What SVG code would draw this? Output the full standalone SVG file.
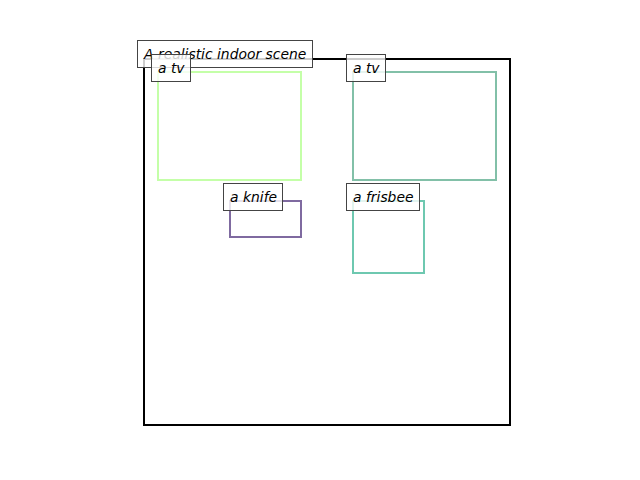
<svg xmlns="http://www.w3.org/2000/svg" width="640" height="480" viewBox="0 0 640 480">
<style>
.frame{fill:none;stroke:#000;stroke-width:2}
.box{fill:none;stroke-width:2}
.lbl{fill:#fff;fill-opacity:0.8;stroke:#444;stroke-width:1}
text{font-family:"DejaVu Sans",sans-serif;font-style:oblique;font-size:13.9px;fill:#000}
</style>
<rect width="640" height="480" fill="#fff"/>
<rect class="frame" x="144" y="59" width="366" height="366"/>
<g id="tv1">
<rect class="box" x="158" y="72" width="143" height="108" stroke="#c4ffa8"/>
</g>
<g id="tv2">
<rect class="box" x="353" y="72" width="143" height="108" stroke="#82c0a8"/>
</g>
<g id="knife">
<rect class="box" x="230" y="201" width="71" height="36" stroke="#7f6aa0"/>
</g>
<g id="frisbee">
<rect class="box" x="353" y="201" width="71" height="72" stroke="#6ec8b0"/>
</g>
<g id="title">
<rect class="lbl" x="137.5" y="40.5" width="175" height="27"/>
<text x="144" y="59">A realistic indoor scene</text>
</g>
<g id="tv1-label">
<rect class="lbl" x="151.5" y="54.5" width="39" height="27"/>
<text x="158" y="73">a tv</text>
</g>
<g id="tv2-label">
<rect class="lbl" x="346.5" y="54.5" width="39" height="27"/>
<text x="353" y="73">a tv</text>
</g>
<g id="knife-label">
<rect class="lbl" x="223.5" y="183.5" width="59" height="27"/>
<text x="230" y="202">a knife</text>
</g>
<g id="frisbee-label">
<rect class="lbl" x="346.5" y="183.5" width="73" height="27"/>
<text x="353" y="202">a frisbee</text>
</g>
</svg>
